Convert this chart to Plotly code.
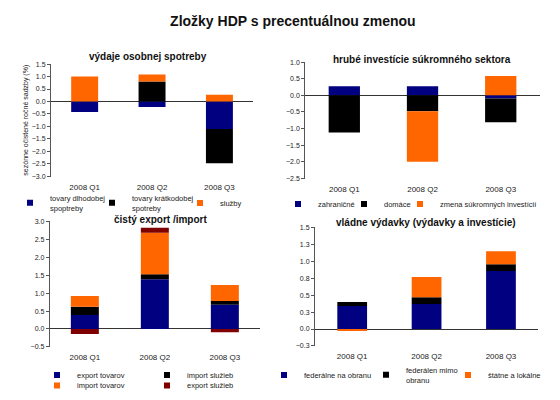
import plotly.graph_objects as go

quarters = ["2008 Q1", "2008 Q2", "2008 Q3"]

# výdaje osobnej spotreby
spotreba_dlhodobe = [-0.42, -0.22, -1.10]
spotreba_kratkodobe = [0.0, 0.80, -1.38]
spotreba_sluzby = [1.00, 0.28, 0.27]

# hrubé investície súkromného sektora
invest_zahranicne = [0.27, 0.27, -0.10]
invest_domace = [-1.12, -0.48, -0.71]
invest_zmena = [0.0, -1.52, 0.58]

# čistý export / import
export_tovarov = [0.39, 1.39, 0.68]
import_sluzieb = [0.23, 0.14, 0.10]
import_tovarov = [0.30, 1.16, 0.45]
export_sluzieb = [-0.14, 0.14, -0.09]

# vládne výdavky
vlada_obrana = [0.34, 0.37, 0.86]
vlada_mimo = [0.06, 0.10, 0.10]
vlada_statne = [-0.03, 0.30, 0.19]

NAVY = "#000080"
BLACK = "#000000"
ORANGE = "#FF6600"
DARKRED = "#7F0000"
FONT = "Arial, Liberation Sans, sans-serif"
W, H = 560, 400

# (x domain, y domain, y range, dtick)
panels = [
    ([0.091, 0.452], [0.5575, 0.84], [-3.0, 1.5], 0.5),
    ([0.545, 0.964], [0.5525, 0.845], [-2.5, 1.0], 0.5),
    ([0.089, 0.464], [0.13, 0.445], [-0.5, 3.0], 0.5),
    ([0.5625, 0.961], [0.1325, 0.43], [-0.25, 1.5], 0.25),
]

# panel, name, values, colour, legend marker position in px
series = [
    (1, "tovary dlhodobej<br>spoptreby", spotreba_dlhodobe, NAVY, (30, 203)),
    (1, "tovary krátkodobej<br>spotreby", spotreba_kratkodobe, BLACK, (112, 203)),
    (1, "služby", spotreba_sluzby, ORANGE, (200, 203)),
    (2, "zahraničné", invest_zahranicne, NAVY, (298, 204)),
    (2, "domáce", invest_domace, BLACK, (364, 204)),
    (2, "zmena súkromných investícií", invest_zmena, ORANGE, (420, 204)),
    (3, "export tovarov", export_tovarov, NAVY, (57, 375)),
    (3, "import služieb", import_sluzieb, BLACK, (167, 375)),
    (3, "import tovarov", import_tovarov, ORANGE, (57, 386)),
    (3, "export služieb", export_sluzieb, DARKRED, (167, 386)),
    (4, "federálne na obranu", vlada_obrana, NAVY, (284, 375)),
    (4, "federálen mimo<br>obranu", vlada_mimo, BLACK, (386, 375)),
    (4, "štátne a lokálne", vlada_statne, ORANGE, (468, 375)),
]

fig = go.Figure()
layout = {}

for k, (n, name, vals, color, (mx, my)) in enumerate(series):
    sfx = "" if n == 1 else str(n)
    leg = "legend" if k == 0 else "legend" + str(k + 1)
    fig.add_trace(go.Bar(
        x=quarters, y=vals, name=name, marker_color=color,
        marker_line_width=0, width=0.4, showlegend=False,
        xaxis="x" + sfx, yaxis="y" + sfx,
    ))
    # small square legend key, like the original
    fig.add_trace(go.Scatter(
        x=[None], y=[None], mode="markers", name=name, legend=leg,
        marker=dict(symbol="square", size=6, color=color),
        xaxis="x" + sfx, yaxis="y" + sfx,
    ))
    layout[leg] = dict(
        x=(mx - 20) / W, y=1 - my / H,
        xanchor="left", yanchor="middle", orientation="h",
        bgcolor="rgba(0,0,0,0)", font=dict(size=7.5, family=FONT, color="#222"),
        itemclick=False, itemdoubleclick=False,
    )

for i, (xd, yd, yr, dt) in enumerate(panels):
    n = i + 1
    sfx = "" if n == 1 else str(n)
    eps = (yr[1] - yr[0]) * 0.002
    layout["xaxis" + sfx] = dict(
        domain=xd, anchor="y" + sfx, type="category", range=[-0.5, 2.5],
        showline=False, showgrid=False, ticks="", ticklabelstandoff=4,
        automargin=False, tickfont=dict(size=8, color="#222"),
    )
    layout["yaxis" + sfx] = dict(
        domain=yd, anchor="x" + sfx, range=[yr[0] - eps, yr[1] + eps],
        dtick=dt, tick0=0, tickformat=".1f", showgrid=False,
        showline=True, linecolor="#555", linewidth=1, ticks="outside",
        ticklen=3, tickcolor="#555", zeroline=True, zerolinecolor="#333",
        zerolinewidth=1, automargin=False, tickfont=dict(size=7, color="#222"),
    )
    # tick marks between categories along the zero line
    zero_pos = yd[0] + (0 - yr[0]) / (yr[1] - yr[0]) * (yd[1] - yd[0])
    layout["xaxis" + str(n + 4)] = dict(
        overlaying="x" + sfx, anchor="free", position=zero_pos,
        domain=xd, type="linear", range=[-0.5, 2.5],
        tickvals=[0.5, 1.5, 2.5], ticks="outside", ticklen=3,
        tickcolor="#555", showticklabels=False, showline=False, showgrid=False,
        zeroline=False, automargin=False,
    )

layout["yaxis"]["title"] = dict(text="sezónne očistené ročné sadzby (%)",
                                font=dict(size=7, color="#222"), standoff=2)

titles = [
    ("výdaje osobnej spotreby", 148, 57),
    ("hrubé investície súkromného sektora", 422, 60),
    ("čistý export /import", 160, 220),
    ("vládne výdavky (výdavky a investície)", 426, 223),
]
annotations = []
for text, px_x, px_y in titles:
    annotations.append(dict(
        text="<b>" + text + "</b>", xref="paper", yref="paper",
        x=px_x / W, y=1 - px_y / H, xanchor="center", yanchor="middle",
        showarrow=False, font=dict(size=10, family=FONT, color="#111"),
    ))

fig.update_layout(
    **layout,
    annotations=annotations,
    barmode="relative",
    width=W, height=H,
    margin=dict(l=0, r=0, t=0, b=0),
    paper_bgcolor="white", plot_bgcolor="white",
    font=dict(family=FONT, color="#222"),
    title=dict(text="<b>Zložky HDP s precentuálnou zmenou</b>",
               x=0.523, y=1 - 21 / H, xanchor="center", yanchor="middle",
               font=dict(size=14, family=FONT, color="#111")),
    showlegend=True,
)

# the page body has an 8px default margin; drop it so the figure fills the window
fig.write_html("out.html", config={"displayModeBar": False},
               post_script="document.body.style.margin = '0';")
